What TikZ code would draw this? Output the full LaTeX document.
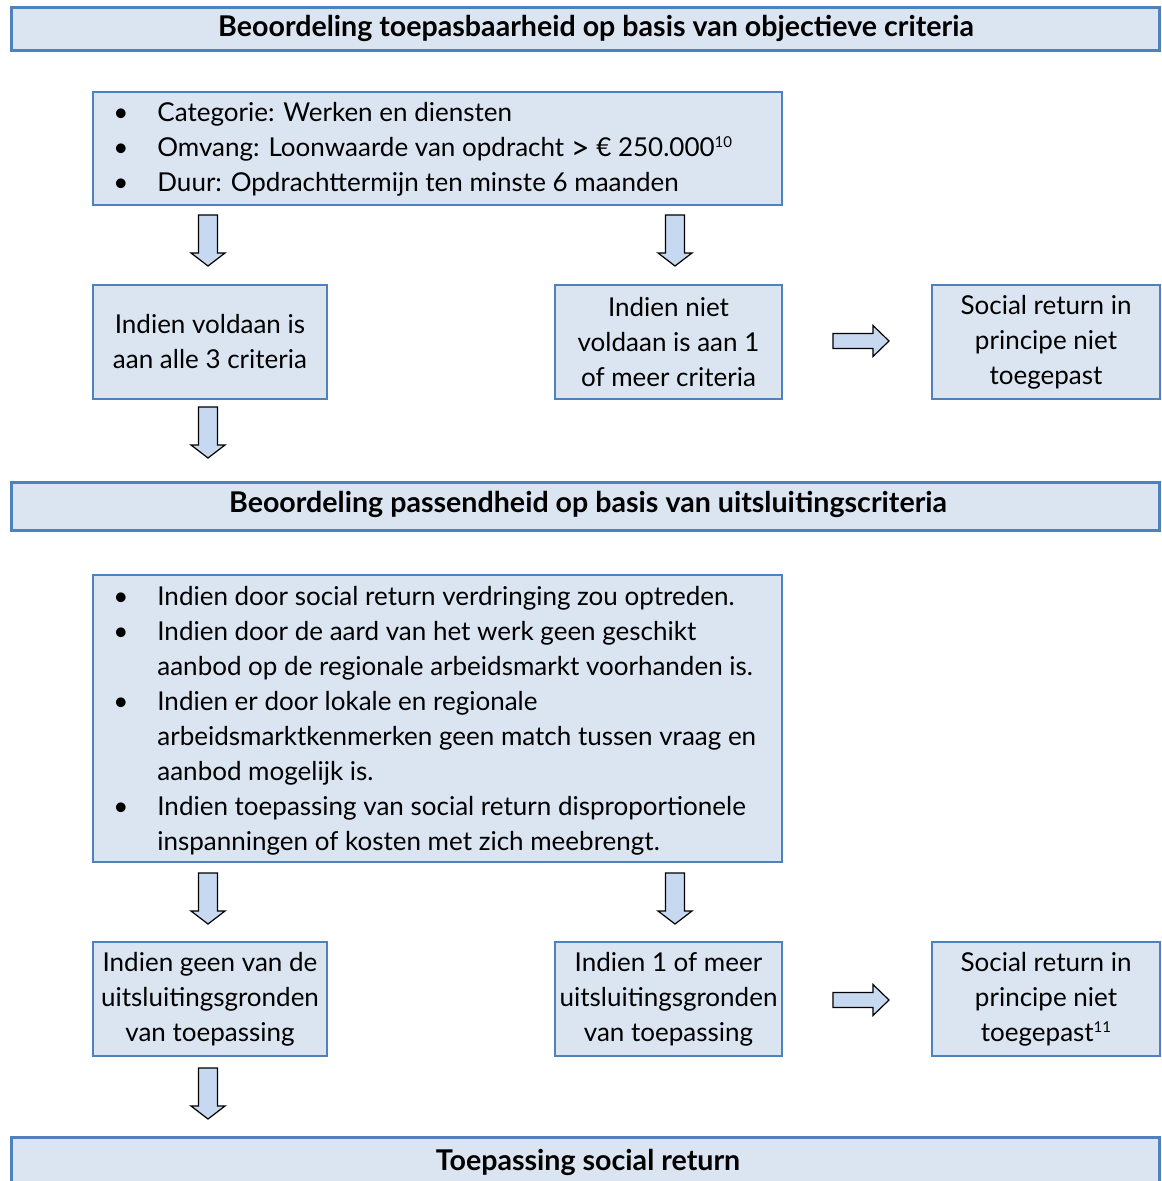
\documentclass[tikz,border=0pt]{standalone}
\usepackage{fontspec}
\usepackage{graphicx}
\setmainfont{Lato}
\definecolor{bfill}{HTML}{DBE5F1}
\definecolor{bline}{HTML}{4F81BD}
\definecolor{afill}{HTML}{C6D9F1}
\tikzset{
  box/.style={draw=bline, line width=0.75pt, fill=bfill, inner sep=0pt, align=center,
    font=\fontsize{13}{17.5}\selectfont, minimum width=117pt, minimum height=57pt},
  listbox/.style={draw=bline, line width=0.75pt, fill=bfill, inner sep=0pt},
  hdr/.style={draw=bline, line width=1.5pt, fill=bfill, inner sep=0pt},
  hdrtext/.style={font=\fontsize{14.3}{17.5}\selectfont\bfseries, inner sep=0pt, anchor=base},
  listtext/.style={font=\fontsize{13}{17.5}\selectfont, inner sep=0pt, anchor=base west},
  blk/.style={draw=black, line width=0.6pt, fill=afill, line join=miter},
  darrow/.pic={\draw[blk] (-9.5,0) -- (9.5,0) -- (9.5,38) -- (17,38) -- (0,51) -- (-17,38) -- (-9.5,38) -- cycle;},
  rarrow/.pic={\draw[blk] (0,-7.5) -- (40,-7.5) -- (40,-15.5) -- (56,0) -- (40,15.5) -- (40,7.5) -- (0,7.5) -- cycle;},
}
\newcommand\bl{\textbullet}
\newcommand\fnmark[1]{\raisebox{4.6pt}{\fontsize{7.5}{7.5}\selectfont #1}}
\begin{document}
\begin{tikzpicture}[x=0.5pt,y=-0.5pt]
\useasboundingbox (0,0) rectangle (1161,1181);
% header 1
\path[hdr] (11,8) rectangle (1159,51);
\node[hdrtext] (h1) at (596,37) {Beoordeling toepasbaarheid op basis van objectieve criteria};
% list box 1
\node[listbox, minimum width=344.5pt, minimum height=56.5pt] (l1) at (437.5,148.5) {};
\node[listtext] (l1t) at (113,122) {\begin{tabular}[t]{@{}p{22pt}@{}l@{}}
\bl & Categorie: Werken en diensten\\
\bl & Omvang: Loonwaarde van opdracht \raisebox{-1.2pt}{\scalebox{1.25}{>}} € 250.000\fnmark{10}\\
\bl & Duur: Opdrachttermijn ten minste 6 maanden
\end{tabular}};
\pic at (208,215) {darrow};
\pic at (675,215) {darrow};
\node[box] (a1) at (210,342) {Indien voldaan is\\aan alle 3 criteria};
\node[box, minimum width=113.5pt] (b1) at (668.5,342) {Indien niet\\voldaan is aan 1\\of meer criteria};
\pic at (833,341) {rarrow};
\node[box, minimum width=114pt] (c1) at (1046,342) {Social return in\\principe niet\\toegepast};
\pic at (208,407) {darrow};
% header 2
\path[hdr] (11,482) rectangle (1159,530);
\node[hdrtext] (h2) at (588,512) {Beoordeling passendheid op basis van uitsluitingscriteria};
% list box 2
\node[listbox, minimum width=344.5pt, minimum height=143.5pt] (l2) at (437.5,718.5) {};
\node[listtext] (l2t) at (113,605) {\begin{tabular}[t]{@{}p{22pt}@{}l@{}}
\bl & Indien door social return verdringing zou optreden.\\
\bl & Indien door de aard van het werk geen geschikt\\
    & aanbod op de regionale arbeidsmarkt voorhanden is.\\
\bl & Indien er door lokale en regionale\\
    & arbeidsmarktkenmerken geen match tussen vraag en\\
    & aanbod mogelijk is.\\
\bl & Indien toepassing van social return disproportionele\\
    & inspanningen of kosten met zich meebrengt.
\end{tabular}};
\pic at (208,873) {darrow};
\pic at (675,873) {darrow};
\node[box] (a2) at (210,999) {Indien geen van de\\uitsluitingsgronden\\van toepassing};
\node[box, minimum width=113.5pt] (b2) at (668.5,999) {Indien 1 of meer\\uitsluitingsgronden\\van toepassing};
\pic at (833,1000) {rarrow};
\node[box, minimum width=114pt] (c2) at (1046,999) {Social return in\\principe niet\\toegepast\fnmark{11}};
\pic at (208,1068) {darrow};
% header 3
\path[hdr] (11,1137) rectangle (1159,1200);
\node[hdrtext] (h3) at (588,1170) {Toepassing social return};
\end{tikzpicture}
\end{document}
